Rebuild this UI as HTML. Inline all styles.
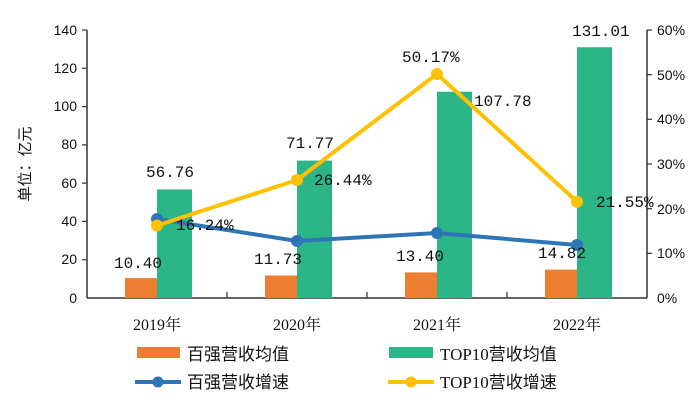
<!DOCTYPE html>
<html><head><meta charset="utf-8"><style>body{margin:0;background:#fff}</style></head><body>
<svg width="700" height="407" xmlns="http://www.w3.org/2000/svg" font-family="Liberation Serif, Noto Serif CJK SC, serif" font-size="15" fill="#111">
<g stroke="#333" stroke-width="1.5">
<line x1="87" y1="30" x2="87" y2="298"/>
<line x1="647" y1="30" x2="647" y2="298"/>
<line x1="87" y1="298" x2="647" y2="298"/>
</g>
<g stroke="#333" stroke-width="1.2">
<line x1="82" y1="30" x2="87" y2="30"/><line x1="82" y1="68.3" x2="87" y2="68.3"/><line x1="82" y1="106.6" x2="87" y2="106.6"/><line x1="82" y1="144.9" x2="87" y2="144.9"/><line x1="82" y1="183.1" x2="87" y2="183.1"/><line x1="82" y1="221.4" x2="87" y2="221.4"/><line x1="82" y1="259.7" x2="87" y2="259.7"/>
<line x1="647" y1="30" x2="652" y2="30"/><line x1="647" y1="74.7" x2="652" y2="74.7"/><line x1="647" y1="119.3" x2="652" y2="119.3"/><line x1="647" y1="164" x2="652" y2="164"/><line x1="647" y1="208.7" x2="652" y2="208.7"/><line x1="647" y1="253.3" x2="652" y2="253.3"/>
<line x1="227" y1="298" x2="227" y2="292"/><line x1="367" y1="298" x2="367" y2="292"/><line x1="507" y1="298" x2="507" y2="292"/>
</g>
<g text-anchor="end" font-family="Liberation Sans, sans-serif" font-size="14">
<text x="77" y="35">140</text><text x="77" y="73">120</text><text x="77" y="111">100</text><text x="77" y="149">80</text><text x="77" y="188">60</text><text x="77" y="226">40</text><text x="77" y="264">20</text><text x="77" y="303">0</text>
</g>
<g font-family="Liberation Sans, sans-serif" font-size="14">
<text x="657" y="35">60%</text><text x="657" y="80">50%</text><text x="657" y="124">40%</text><text x="657" y="169">30%</text><text x="657" y="214">20%</text><text x="657" y="258">10%</text><text x="657" y="303">0%</text>
</g>
<text transform="translate(30,164) rotate(-90)" text-anchor="middle" font-family="Liberation Sans, Noto Sans CJK SC, sans-serif" font-size="15">单位：亿元</text>
<g fill="#ED7D31">
<rect x="125" y="278.1" width="32" height="19.9"/><rect x="265" y="275.5" width="32" height="22.5"/><rect x="405" y="272.4" width="32" height="25.6"/><rect x="545" y="269.6" width="32" height="28.4"/>
</g>
<g fill="#2CB586">
<rect x="157" y="189.4" width="35" height="108.6"/><rect x="297" y="160.6" width="35" height="137.4"/><rect x="437" y="91.7" width="35" height="206.3"/><rect x="577" y="47.2" width="35" height="250.8"/>
</g>
<polyline points="157,219 297,241 437,233 577,245" fill="none" stroke="#2E75B6" stroke-width="4"/>
<g fill="#2E75B6"><circle cx="157" cy="219" r="6"/><circle cx="297" cy="241" r="6"/><circle cx="437" cy="233" r="6"/><circle cx="577" cy="245" r="6"/></g>
<polyline points="157,225.5 297,180 437,74 577,201.7" fill="none" stroke="#FFC000" stroke-width="4"/>
<g fill="#FFC000"><circle cx="157" cy="225.5" r="6"/><circle cx="297" cy="180" r="6"/><circle cx="437" cy="74" r="6"/><circle cx="577" cy="201.7" r="6"/></g>
<g font-size="16" font-family="Liberation Mono, monospace">
<text x="114" y="268">10.40</text><text x="254" y="264">11.73</text><text x="396" y="261">13.40</text><text x="538" y="258">14.82</text>
<text x="146" y="177">56.76</text><text x="286" y="148">71.77</text><text x="474" y="106">107.78</text><text x="572" y="36">131.01</text>
<text x="176" y="230">16.24%</text><text x="314" y="185">26.44%</text><text x="402" y="62">50.17%</text><text x="596" y="207">21.55%</text>
</g>
<g font-size="16" text-anchor="middle"><text x="157" y="330">2019年</text><text x="297" y="330">2020年</text><text x="437" y="330">2021年</text><text x="577" y="330">2022年</text></g>
<g font-size="17" font-family="Liberation Serif, Noto Sans CJK SC, sans-serif">
<rect x="137" y="347" width="43" height="11" fill="#ED7D31"/><text x="187" y="360">百强营收均值</text>
<rect x="389" y="347" width="44" height="11" fill="#2CB586"/><text x="440" y="360">TOP10营收均值</text>
<line x1="135" y1="382" x2="181" y2="382" stroke="#2E75B6" stroke-width="4"/><circle cx="158" cy="382" r="5.5" fill="#2E75B6"/><text x="187" y="388">百强营收增速</text>
<line x1="388" y1="382" x2="434" y2="382" stroke="#FFC000" stroke-width="4"/><circle cx="411" cy="382" r="5.5" fill="#FFC000"/><text x="440" y="388">TOP10营收增速</text>
</g>
</svg>
</body></html>
